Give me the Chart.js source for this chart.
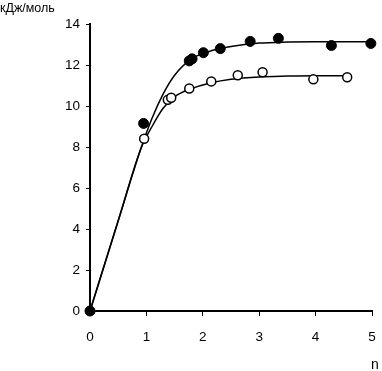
<!DOCTYPE html>
<html>
<head>
<meta charset="utf-8">
<script src="https://cdn.jsdelivr.net/npm/chart.js@4"></script>
<style>
  html, body { margin: 0; padding: 0; background: #fff; }
  #wrap { width: 382px; height: 371px; }
</style>
</head>
<body>
<div id="wrap"><canvas id="chart" width="382" height="371"></canvas></div>
<script>
// measured points (filled / open circles)
const filledX = [0, 0.95, 1.76, 1.81, 2.01, 2.31, 2.84, 3.34, 4.28, 4.98];
const filledY = [0, 9.15, 12.2, 12.3, 12.6, 12.8, 13.15, 13.3, 12.95, 13.05];
const openX = [0.96, 1.38, 1.44, 1.76, 2.15, 2.62, 3.06, 3.96, 4.56];
const openY = [8.4, 10.3, 10.4, 10.85, 11.2, 11.5, 11.65, 11.3, 11.4];

// fitted curves
const fitFilledX = [0, 0.5, 0.9, 1.1, 1.3, 1.5, 1.8, 2.1, 2.5, 3, 3.5, 4, 5];
const fitFilledY = [0, 4.4, 7.9, 9.4, 10.6, 11.5, 12.3, 12.65, 12.9, 13.07, 13.12, 13.13, 13.13];
const fitOpenX = [0, 0.5, 0.9, 1.1, 1.3, 1.5, 1.8, 2.1, 2.5, 3, 3.5, 4, 4.6];
const fitOpenY = [0, 4.4, 7.9, 9.0, 9.9, 10.45, 10.85, 11.1, 11.3, 11.42, 11.46, 11.48, 11.48];

const xTicks = [0, 1, 2, 3, 4, 5];
const yTicks = [0, 2, 4, 6, 8, 10, 12, 14];

const yTitle = "кДж/моль";
const xTitle = "n";

const toPts = (xs, ys) => xs.map((x, i) => ({ x: x, y: ys[i] }));

const font = { family: "'Liberation Sans', Arial, sans-serif", size: 13.5 };

// axis captions
const captions = {
  id: "captions",
  afterDraw(chart) {
    const ctx = chart.ctx;
    ctx.save();
    ctx.fillStyle = "#000";
    ctx.textBaseline = "alphabetic";
    ctx.textAlign = "left";
    ctx.font = "12.5px 'Liberation Sans', Arial, sans-serif";
    ctx.fillText(yTitle, 0, 12);
    ctx.font = "14px 'Liberation Sans', Arial, sans-serif";
    ctx.fillText(xTitle, 371, 369);
    ctx.restore();
  },
};

new Chart(document.getElementById("chart"), {
  type: "scatter",
  data: {
    datasets: [
      {
        data: toPts(filledX, filledY),
        order: 0,
        pointRadius: 5,
        pointBackgroundColor: "#000",
        pointBorderColor: "#000",
        pointBorderWidth: 1,
        showLine: false,
        clip: false,
      },
      {
        data: toPts(openX, openY),
        order: 1,
        pointRadius: 4.5,
        pointBackgroundColor: "#fff",
        pointBorderColor: "#000",
        pointBorderWidth: 1.5,
        showLine: false,
        clip: false,
      },
      {
        data: toPts(fitFilledX, fitFilledY),
        order: 2,
        showLine: true,
        pointRadius: 0,
        borderColor: "#000",
        borderWidth: 1.5,
        cubicInterpolationMode: "monotone",
        clip: false,
      },
      {
        data: toPts(fitOpenX, fitOpenY),
        order: 3,
        showLine: true,
        pointRadius: 0,
        borderColor: "#000",
        borderWidth: 1.5,
        cubicInterpolationMode: "monotone",
        clip: false,
      },
    ],
  },
  options: {
    responsive: false,
    animation: false,
    layout: { padding: { left: 0, right: 10, top: 24, bottom: 0 } },
    plugins: { legend: { display: false }, tooltip: { enabled: false } },
    scales: {
      x: {
        type: "linear",
        min: 0,
        max: 5,
        afterBuildTicks: (axis) => { axis.ticks = xTicks.map((v) => ({ value: v })); },
        afterFit: (axis) => {
          axis.height = 60;
          axis.paddingLeft = 0;
          axis.paddingRight = 0;
        },
        border: { display: true, color: "#000", width: 2 },
        grid: { drawOnChartArea: false, drawTicks: true, tickLength: 5, color: "#000", tickWidth: 1 },
        ticks: { color: "#000", font: font, padding: 13 },
      },
      y: {
        type: "linear",
        min: 0,
        max: 14,
        afterBuildTicks: (axis) => { axis.ticks = yTicks.map((v) => ({ value: v })); },
        afterFit: (axis) => {
          axis.width = 90;
          axis.paddingTop = 0;
          axis.paddingBottom = 0;
        },
        border: { display: true, color: "#000", width: 2 },
        grid: { drawOnChartArea: false, drawTicks: true, tickLength: 4, color: "#000", tickWidth: 1 },
        ticks: { color: "#000", font: font, padding: 6 },
      },
    },
  },
  plugins: [captions],
});
</script>
</body>
</html>
